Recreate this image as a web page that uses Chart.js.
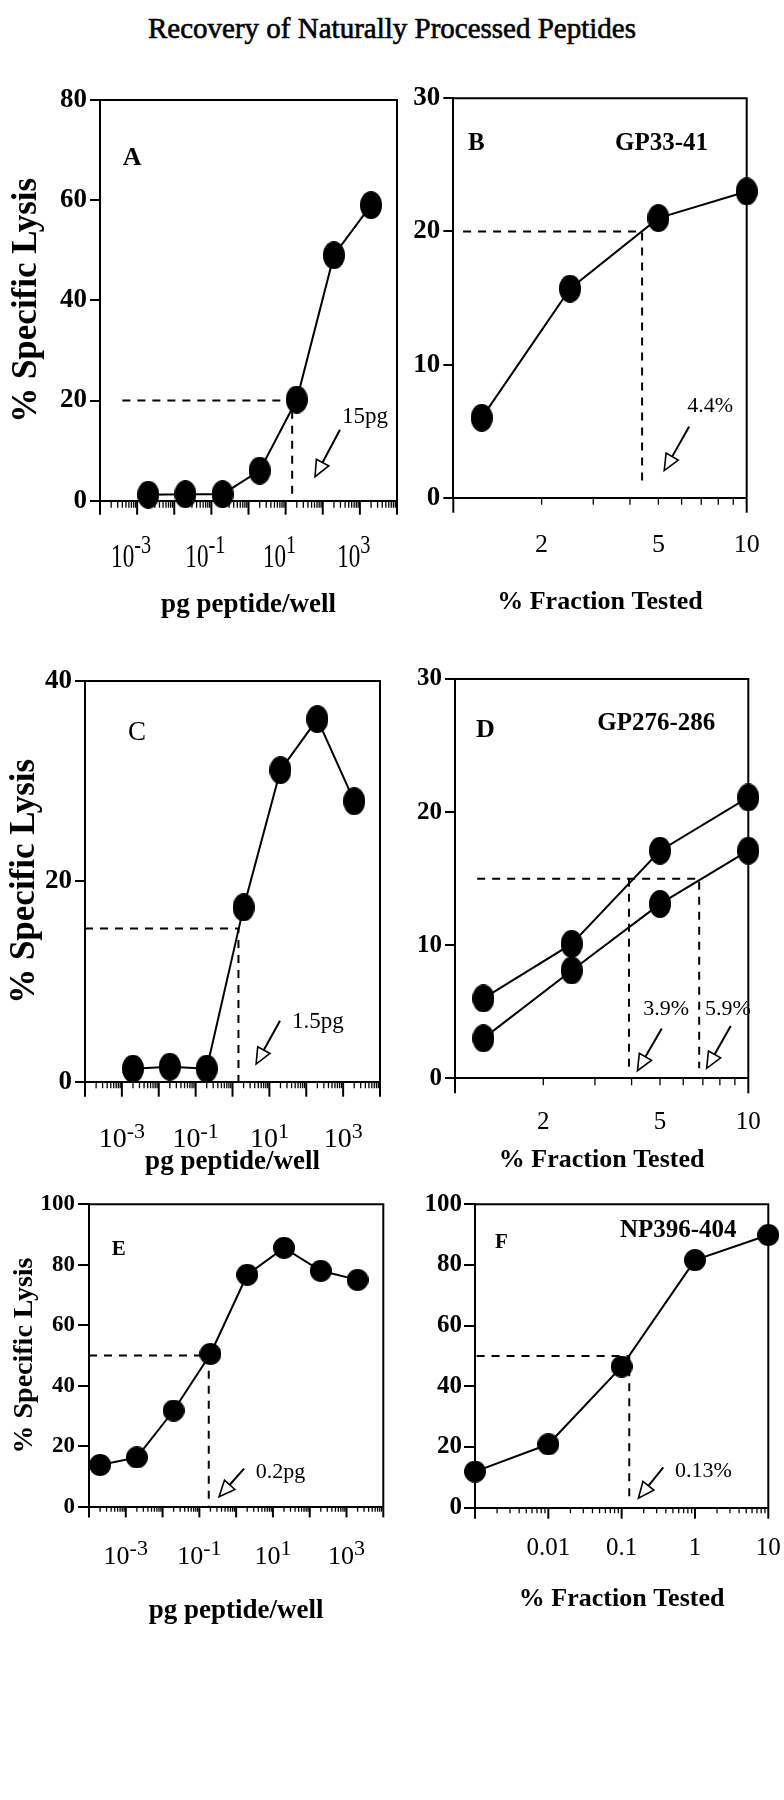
<!DOCTYPE html>
<html>
<head>
<meta charset="utf-8">
<title>Recovery of Naturally Processed Peptides</title>
<script src="https://cdn.jsdelivr.net/npm/chart.js@4.4.1/dist/chart.umd.min.js"></script>
<style>
  body { margin: 0; background: #fff; }
  #page { position: relative; width: 784px; height: 1800px; overflow: hidden; }
  #title { position: absolute; left: 0; top: 14px; width: 784px; text-align: center;
           font: 29px/29px "Liberation Serif", serif; color: #000;
           -webkit-text-stroke: 0.6px #000; }
  canvas { position: absolute; }
</style>
</head>
<body>
<div id="page">
  <div id="title">Recovery of Naturally Processed Peptides</div>
  <canvas id="panelA" width="420" height="580" style="left:0;top:50px"></canvas>
  <canvas id="panelB" width="384" height="580" style="left:400px;top:50px"></canvas>
  <canvas id="panelC" width="420" height="550" style="left:0;top:640px"></canvas>
  <canvas id="panelD" width="384" height="550" style="left:400px;top:640px"></canvas>
  <canvas id="panelE" width="420" height="470" style="left:0;top:1170px"></canvas>
  <canvas id="panelF" width="384" height="470" style="left:400px;top:1170px"></canvas>
</div>
<script>
// ---- values ----
// A: GP33-41 synthetic peptide titration
const doseA = [0.002, 0.02, 0.2, 2, 20, 200, 2000];
const lysisA = [1.2, 1.3, 1.3, 6, 20.2, 49, 59];
const guideA = [[0.0004, 20], [15, 20], [15, 0]];

// B: GP33-41 natural fraction
const fracB = [1.25, 2.5, 5, 10];
const lysisB = [6, 15.7, 21, 23];
const guideB = [[1.08, 20], [4.4, 20], [4.4, 1.3]];

// C: GP276-286 synthetic peptide titration
const doseC = [0.002, 0.02, 0.2, 2, 20, 200, 2000];
const lysisC = [1.3, 1.5, 1.3, 17.4, 31.1, 36.2, 28];
const guideC = [[0.0001, 15.3], [1.45, 15.3], [1.45, 0]];

// D: GP276-286 natural fraction, two experiments
const fracD = [1.25, 2.5, 5, 10];
const lysisD1 = [6, 10.1, 17.1, 21.1];
const lysisD2 = [3, 8.1, 13.1, 17.1];
const guideD1 = [[1.19, 15], [6.8, 15], [6.8, 0.75]];
const guideD2 = [[3.92, 15], [3.92, 0.75]];

// E: NP396-404 synthetic peptide titration
const doseE = [0.0002, 0.002, 0.02, 0.2, 2, 20, 200, 2000];
const lysisE = [13.8, 16.3, 31.8, 50.5, 76.7, 85.6, 78, 75];
const guideE = [[0.0001, 50], [0.18, 50], [0.18, 0]];

// F: NP396-404 natural fraction
const fracF = [0.001, 0.01, 0.1, 1, 10];
const lysisF = [11.9, 20.9, 46.5, 81.6, 89.9];
const guideF = [[0.00105, 50], [0.127, 50], [0.127, 3]];

// ---- ticks ----
const yTicksA = [0, 20, 40, 60, 80];
const yTicksB = [0, 10, 20, 30];
const yTicksC = [0, 20, 40];
const yTicksD = [0, 10, 20, 30];
const yTicksEF = [0, 20, 40, 60, 80, 100];
const doseExps = [-3, -1, 1, 3];          // labelled as 10^n
const fracLabelsBD = [2, 5, 10];
const fracLabelsF = [0.01, 0.1, 1, 10];

const doseDecades = [1e-4, 1e-3, 1e-2, 1e-1, 1, 10, 100, 1e3, 1e4];
const fracDecadesF = [1e-3, 1e-2, 1e-1, 1, 10];
const minorsOf = decades => {
  const out = [];
  decades.slice(0, -1).forEach(d => { for (let m = 2; m <= 9; m++) out.push(m * d); });
  return out;
};

const SERIF = '"Liberation Serif", "Times New Roman", serif';
Chart.defaults.font.family = SERIF;
Chart.defaults.color = '#000';

function dot(w, h) {
  const c = document.createElement('canvas');
  c.width = w; c.height = h;
  const g = c.getContext('2d');
  g.fillStyle = '#000';
  g.beginPath();
  g.ellipse(w / 2, h / 2, w / 2, h / 2, 0, 0, Math.PI * 2);
  g.fill();
  return c;
}
const tallDot = dot(22, 28);
const roundDot = dot(22, 22);

const pts = (xs, ys) => xs.map((x, i) => ({ x, y: ys[i] }));
const pairs = list => list.map(([x, y]) => ({ x, y }));

function arrow(ctx, [x1, y1], [x2, y2]) {
  const len = Math.hypot(x2 - x1, y2 - y1);
  const ux = (x2 - x1) / len, uy = (y2 - y1) / len;
  const hl = 16, hw = 7;
  const bx = x2 - ux * hl, by = y2 - uy * hl;
  ctx.lineWidth = 2;
  ctx.beginPath(); ctx.moveTo(x1, y1); ctx.lineTo(bx, by); ctx.stroke();
  ctx.lineWidth = 1.6;
  ctx.beginPath();
  ctx.moveTo(x2, y2);
  ctx.lineTo(bx - uy * hw, by + ux * hw);
  ctx.lineTo(bx + uy * hw, by - ux * hw);
  ctx.closePath();
  ctx.fillStyle = '#fff'; ctx.fill(); ctx.stroke();
  ctx.fillStyle = '#000';
}

// box, x tick marks, 10^n labels and the callouts
const decoById = {};
const decoPlugin = {
  id: 'deco',
  beforeDatasetsDraw(chart) {
    const d = decoById[chart.canvas.id];
    const { ctx, chartArea: a } = chart;
    const xs = chart.scales.x;
    ctx.save();
    ctx.strokeStyle = '#000';
    ctx.fillStyle = '#000';
    ctx.lineWidth = 2;
    ctx.beginPath();
    ctx.moveTo(a.left, a.top);
    ctx.lineTo(a.right, a.top);
    ctx.lineTo(a.right, a.bottom);
    ctx.stroke();

    const tick = (v, len, w) => {
      const px = xs.getPixelForValue(v);
      ctx.lineWidth = w;
      ctx.beginPath(); ctx.moveTo(px, a.bottom); ctx.lineTo(px, a.bottom + len); ctx.stroke();
    };
    d.majors.forEach(v => tick(v, d.majorLen, 2));
    d.minors.forEach(v => tick(v, d.minorLen, 1.3));

    if (d.pow) {
      const p = d.pow;
      ctx.textAlign = 'left';
      ctx.textBaseline = 'alphabetic';
      p.exps.forEach(e => {
        const px = xs.getPixelForValue(Math.pow(10, e));
        const sup = String(e);
        ctx.font = `${p.fs}px ${SERIF}`;
        const wb = ctx.measureText('10').width * p.sx;
        ctx.font = `${p.ss}px ${SERIF}`;
        const ws = ctx.measureText(sup).width * p.ssx;
        const x0 = px - (wb + ws) / 2 + p.shift;
        const yb = a.bottom + p.base;
        ctx.save(); ctx.translate(x0, yb); ctx.scale(p.sx, 1);
        ctx.font = `${p.fs}px ${SERIF}`; ctx.fillText('10', 0, 0); ctx.restore();
        ctx.save(); ctx.translate(x0 + wb, yb - p.raise); ctx.scale(p.ssx, 1);
        ctx.font = `${p.ss}px ${SERIF}`; ctx.fillText(sup, 0, 0); ctx.restore();
      });
    }
    ctx.restore();
  },
  afterDatasetsDraw(chart) {
    const d = decoById[chart.canvas.id];
    const { ctx, chartArea: a } = chart;
    const at = (fx, fy) => [a.left + fx * (a.right - a.left), a.top + fy * (a.bottom - a.top)];
    ctx.save();
    ctx.strokeStyle = '#000';
    ctx.fillStyle = '#000';
    ctx.textAlign = 'left';
    ctx.textBaseline = 'alphabetic';
    d.texts.forEach(t => {
      ctx.font = `${t.font} ${SERIF}`;
      const [px, py] = at(t.fx, t.fy);
      ctx.fillText(t.text, px, py);
    });
    d.arrows.forEach(r => arrow(ctx, at(r.tail[0], r.tail[1]), at(r.tip[0], r.tip[1])));
    ctx.restore();
  }
};

function makePanel(id, c) {
  decoById[id] = c.deco;
  const datasets = c.series.map(s => ({
    data: s, borderColor: '#000', borderWidth: 2, tension: 0, clip: false,
    pointStyle: c.dot, pointRadius: 11
  })).concat(c.guides.map(g => ({
    data: g, borderColor: '#000', borderWidth: 2, borderDash: [8, 7], pointRadius: 0
  })));

  new Chart(document.getElementById(id), {
    type: 'line',
    data: { datasets },
    options: {
      responsive: false,
      animation: false,
      events: [],
      layout: { padding: { top: c.padTop, right: c.padRight, bottom: 0, left: 0 } },
      plugins: { legend: { display: false }, tooltip: { enabled: false } },
      scales: {
        x: {
          type: 'logarithmic', min: c.xMin, max: c.xMax,
          afterBuildTicks: s => { s.ticks = (c.xLabels || doseDecades).map(v => ({ value: v })); },
          afterFit: s => { s.height = c.xHeight; },
          ticks: {
            display: !!c.xLabels, autoSkip: false, maxRotation: 0,
            padding: 2, font: { size: c.xFont }, callback: v => String(v)
          },
          grid: { drawOnChartArea: false, drawTicks: true, tickLength: c.xTickGap || 10, color: 'rgba(0,0,0,0)' },
          border: { color: '#000', width: 2 },
          title: {
            display: true, text: c.xTitle, color: '#000',
            font: { size: c.xTitleSize, weight: 'bold' },
            padding: { top: 0, bottom: c.xTitlePad }
          }
        },
        y: {
          type: 'linear', min: 0, max: c.yTicks[c.yTicks.length - 1],
          afterBuildTicks: s => { s.ticks = c.yTicks.map(v => ({ value: v })); },
          afterFit: s => { s.width = c.yWidth; },
          ticks: { padding: c.yPad, font: { size: c.yFont, weight: 'bold' } },
          grid: { drawOnChartArea: false, drawTicks: true, tickLength: c.yTick, color: '#000', lineWidth: 2 },
          border: { color: '#000', width: 2 },
          title: c.yTitle ? {
            display: true, text: c.yTitle, color: '#000',
            font: { size: c.yTitleSize, weight: 'bold' },
            padding: { top: c.yTitlePad, bottom: 0 }
          } : { display: false }
        }
      }
    },
    plugins: [decoPlugin]
  });
}

// Panel A
makePanel('panelA', {
  series: [pts(doseA, lysisA)], guides: [pairs(guideA)], dot: tallDot,
  padTop: 50, padRight: 23, yWidth: 100, xHeight: 129.3,
  xMin: 1e-4, xMax: 1e4, xTitle: 'pg peptide/well', xTitleSize: 27, xTitlePad: 8.8,
  yTicks: yTicksA, yFont: 27, yTick: 10, yPad: 3,
  yTitle: '% Specific Lysis', yTitleSize: 35, yTitlePad: 6,
  deco: {
    majors: doseDecades, minors: minorsOf(doseDecades), majorLen: 14, minorLen: 7,
    pow: { exps: doseExps, fs: 34, sx: 0.68, ss: 26, ssx: 0.78, raise: 14, base: 66, shift: -6 },
    texts: [
      { text: 'A', fx: 0.077, fy: 0.162, font: 'bold 26px' },
      { text: '15pg', fx: 0.815, fy: 0.806, font: '23px' }
    ],
    arrows: [{ tail: [0.808, 0.823], tip: [0.724, 0.940] }]
  }
});

// Panel B
makePanel('panelB', {
  series: [pts(fracB, lysisB)], guides: [pairs(guideB)], dot: tallDot,
  padTop: 48.3, padRight: 37.3, yWidth: 53.3, xHeight: 132.3,
  xMin: 1, xMax: 10, xLabels: fracLabelsBD, xFont: 26, xTickGap: 29.7,
  xTitle: '% Fraction Tested', xTitleSize: 26, xTitlePad: 12.4,
  yTicks: yTicksB, yFont: 27, yTick: 10, yPad: 3,
  deco: {
    majors: [1, 10], minors: [2, 3, 4, 5, 6, 7, 8, 9], majorLen: 15, minorLen: 7,
    texts: [
      { text: 'B', fx: 0.05, fy: 0.129, font: 'bold 25px' },
      { text: 'GP33-41', fx: 0.551, fy: 0.129, font: 'bold 25px' },
      { text: '4.4%', fx: 0.797, fy: 0.785, font: '22px' }
    ],
    arrows: [{ tail: [0.804, 0.822], tip: [0.719, 0.932] }]
  }
});

// Panel C
makePanel('panelC', {
  series: [pts(doseC, lysisC)], guides: [pairs(guideC)], dot: tallDot,
  padTop: 41, padRight: 40, yWidth: 85, xHeight: 108.3,
  xMin: 1e-4, xMax: 1e4, xTitle: 'pg peptide/well', xTitleSize: 27, xTitlePad: 11.8,
  yTicks: yTicksC, yFont: 27, yTick: 10, yPad: 3,
  yTitle: '% Specific Lysis', yTitleSize: 35, yTitlePad: 4,
  deco: {
    majors: doseDecades, minors: minorsOf(doseDecades), majorLen: 15, minorLen: 6.5,
    pow: { exps: doseExps, fs: 28, sx: 1, ss: 22, ssx: 1, raise: 9, base: 65, shift: 0 },
    texts: [
      { text: 'C', fx: 0.146, fy: 0.147, font: '27px' },
      { text: '1.5pg', fx: 0.702, fy: 0.867, font: '23px' }
    ],
    arrows: [{ tail: [0.661, 0.848], tip: [0.580, 0.956] }]
  }
});

// Panel D
makePanel('panelD', {
  series: [pts(fracD, lysisD1), pts(fracD, lysisD2)], guides: [pairs(guideD1), pairs(guideD2)], dot: tallDot,
  padTop: 39, padRight: 35.7, yWidth: 55, xHeight: 111.7,
  xMin: 1, xMax: 10, xLabels: fracLabelsBD, xFont: 25, xTickGap: 27.4,
  xTitle: '% Fraction Tested', xTitleSize: 26, xTitlePad: 14.4,
  yTicks: yTicksD, yFont: 25, yTick: 10, yPad: 3,
  deco: {
    majors: [1, 10], minors: [2, 3, 4, 5, 6, 7, 8, 9], majorLen: 15, minorLen: 7,
    texts: [
      { text: 'D', fx: 0.072, fy: 0.1445, font: 'bold 26px' },
      { text: 'GP276-286', fx: 0.485, fy: 0.128, font: 'bold 25px' },
      { text: '3.9%', fx: 0.642, fy: 0.841, font: '22px' },
      { text: '5.9%', fx: 0.852, fy: 0.841, font: '22px' }
    ],
    arrows: [
      { tail: [0.705, 0.875], tip: [0.622, 0.981] },
      { tail: [0.940, 0.869], tip: [0.858, 0.975] }
    ]
  }
});

// Panel E
makePanel('panelE', {
  series: [pts(doseE, lysisE)], guides: [pairs(guideE)], dot: roundDot,
  padTop: 34.3, padRight: 36.7, yWidth: 89, xHeight: 133.3,
  xMin: 1e-4, xMax: 1e4, xTitle: 'pg peptide/well', xTitleSize: 27, xTitlePad: 12.8,
  yTicks: yTicksEF, yFont: 23, yTick: 11, yPad: 3,
  yTitle: '% Specific Lysis', yTitleSize: 28, yTitlePad: 8.2,
  deco: {
    majors: doseDecades, minors: minorsOf(doseDecades), majorLen: 10.7, minorLen: 5,
    pow: { exps: doseExps, fs: 26, sx: 1, ss: 22, ssx: 1, raise: 9, base: 57.3, shift: 0 },
    texts: [
      { text: 'E', fx: 0.077, fy: 0.168, font: 'bold 21px' },
      { text: '0.2pg', fx: 0.567, fy: 0.906, font: '22px' }
    ],
    arrows: [{ tail: [0.527, 0.874], tip: [0.442, 0.967] }]
  }
});

// Panel F
makePanel('panelF', {
  series: [pts(fracF, lysisF)], guides: [pairs(guideF)], dot: roundDot,
  padTop: 34.3, padRight: 15.7, yWidth: 75, xHeight: 132.3,
  xMin: 0.001, xMax: 10, xLabels: fracLabelsF, xFont: 25, xTickGap: 23.6,
  xTitle: '% Fraction Tested', xTitleSize: 26, xTitlePad: 25.4,
  yTicks: yTicksEF, yFont: 25, yTick: 11, yPad: 2,
  deco: {
    majors: fracDecadesF, minors: minorsOf(fracDecadesF), majorLen: 11, minorLen: 5.5,
    texts: [
      { text: 'F', fx: 0.068, fy: 0.145, font: 'bold 21px' },
      { text: 'NP396-404', fx: 0.494, fy: 0.107, font: 'bold 25px' },
      { text: '0.13%', fx: 0.682, fy: 0.898, font: '22px' }
    ],
    arrows: [{ tail: [0.642, 0.867], tip: [0.557, 0.969] }]
  }
});
</script>
</body>
</html>
